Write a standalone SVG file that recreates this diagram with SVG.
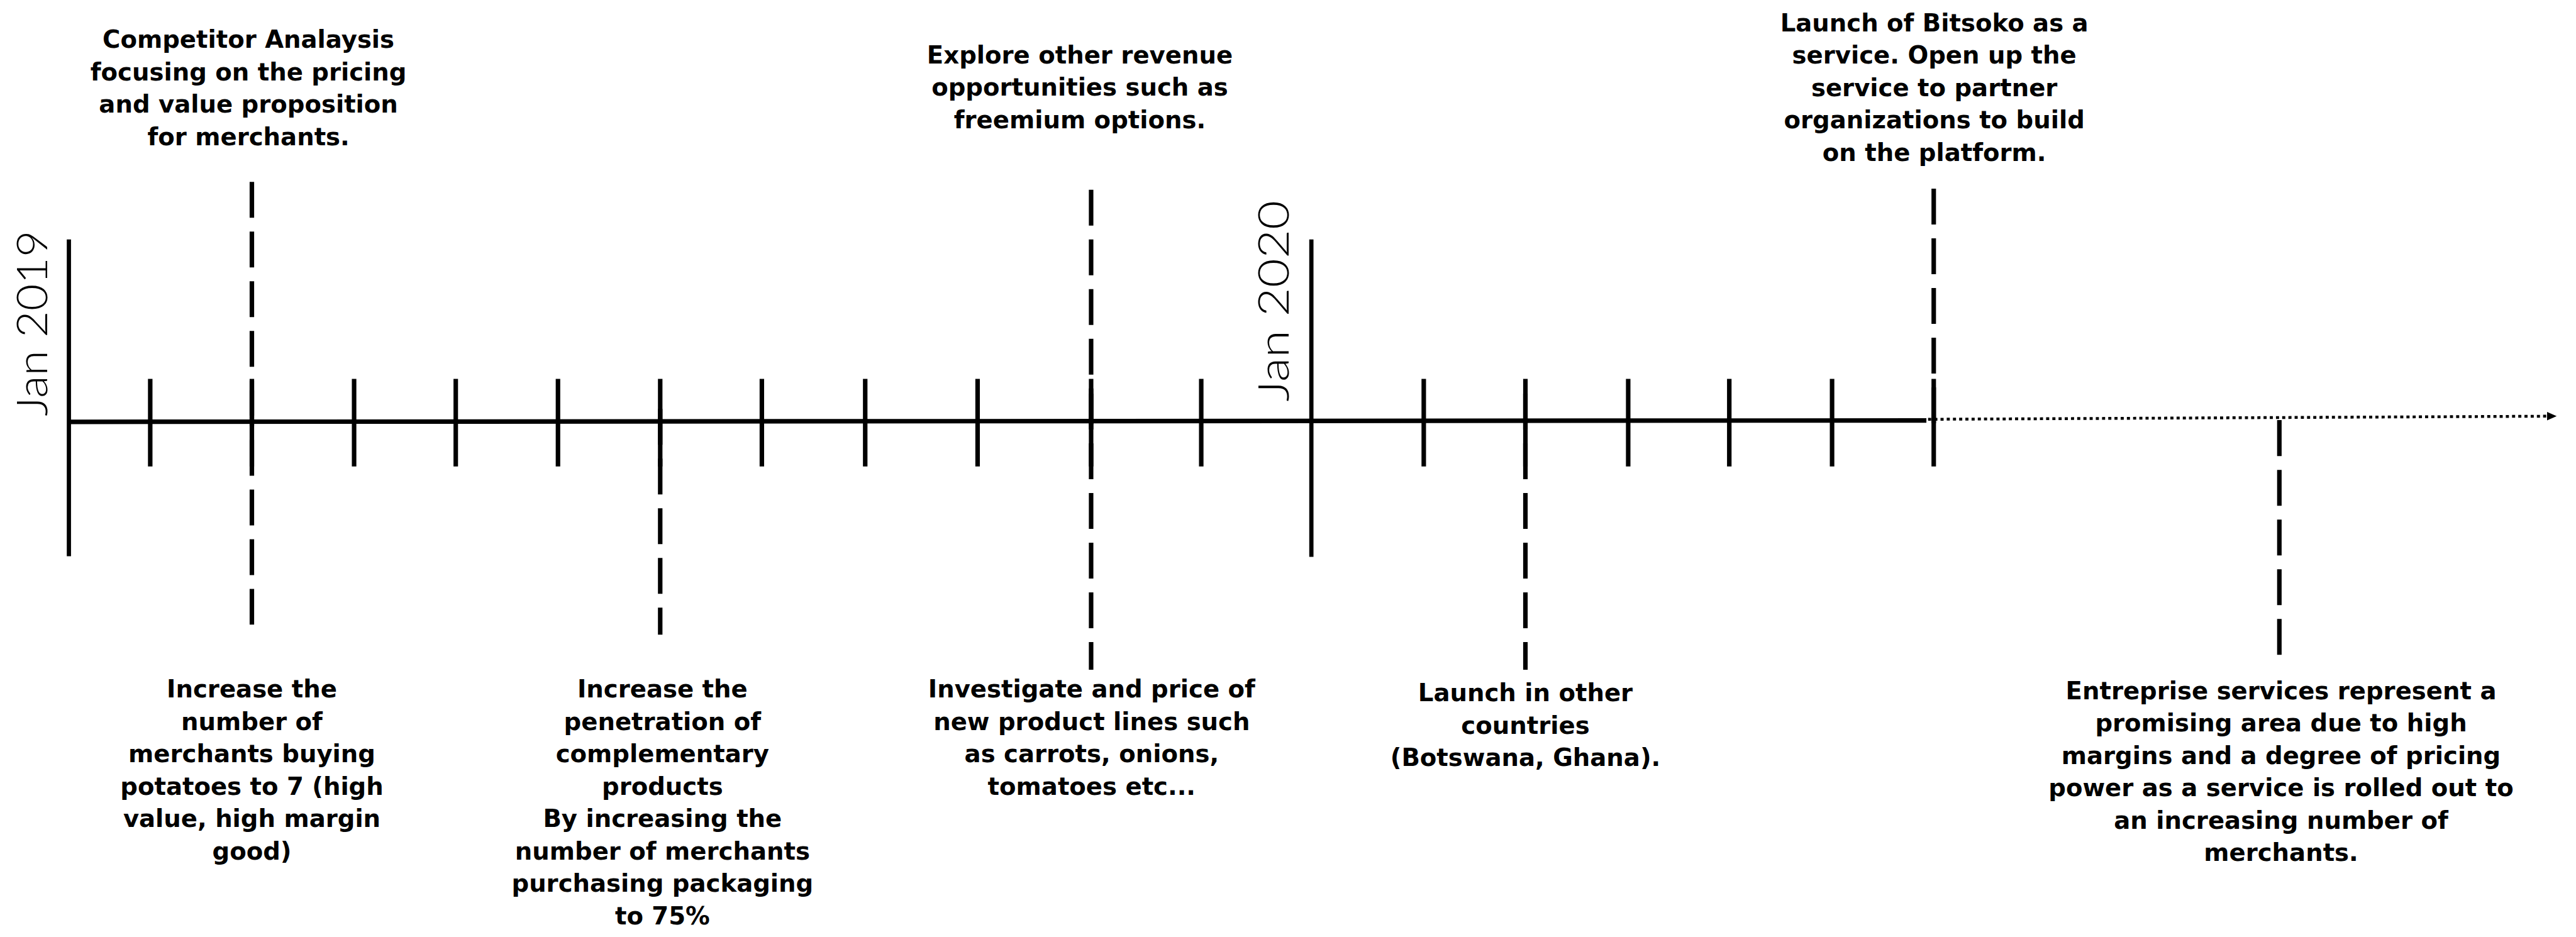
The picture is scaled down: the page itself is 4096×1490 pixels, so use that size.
<svg xmlns="http://www.w3.org/2000/svg" width="4096" height="1490" viewBox="0 0 4096 1490">
<style>
.t{font-family:"DejaVu Sans","Liberation Sans",sans-serif;font-weight:bold;font-size:43px;text-anchor:middle;fill:#000}
.j{font-family:Lato,"Open Sans","DejaVu Sans",sans-serif;font-weight:300;font-size:74px;fill:#000}
.solid{stroke:#000;stroke-width:8;fill:none}
.year{stroke:#000;stroke-width:7.5;fill:none}
.dash{stroke:#000;stroke-width:8;stroke-dasharray:63.5 24.5;fill:none}
.dot{stroke:#000;stroke-width:5;stroke-dasharray:5.5 5.5;fill:none}
</style>
<defs>
<marker id="arrow" markerUnits="userSpaceOnUse" markerWidth="20" markerHeight="18" refX="0" refY="7.5" orient="auto">
<path d="M0,0 L17,7.5 L0,15 Z" fill="#000"/>
</marker>
</defs>
<rect width="4096" height="1490" fill="#fff"/>
<g transform="scale(0.898)">
<g id="axis">
<line class="solid" x1="122" y1="747" x2="3411" y2="744.5"/>
<line class="dot" x1="3414" y1="742.5" x2="4510" y2="737" marker-end="url(#arrow)"/>
<line class="year" x1="122" y1="424" x2="122" y2="985"/>
<line class="year" x1="2322" y1="424" x2="2322" y2="986"/>
<g class="solid">
<line x1="266" y1="671" x2="266" y2="826"/>
<line x1="446" y1="671" x2="446" y2="826"/>
<line x1="627" y1="671" x2="627" y2="826"/>
<line x1="807" y1="671" x2="807" y2="826"/>
<line x1="988" y1="671" x2="988" y2="826"/>
<line x1="1169" y1="671" x2="1169" y2="826"/>
<line x1="1349" y1="671" x2="1349" y2="826"/>
<line x1="1532" y1="671" x2="1532" y2="826"/>
<line x1="1731" y1="671" x2="1731" y2="826"/>
<line x1="1932" y1="671" x2="1932" y2="826"/>
<line x1="2127" y1="671" x2="2127" y2="826"/>
<line x1="2521" y1="671" x2="2521" y2="826"/>
<line x1="2701" y1="671" x2="2701" y2="826"/>
<line x1="2883" y1="671" x2="2883" y2="826"/>
<line x1="3062" y1="671" x2="3062" y2="826"/>
<line x1="3244" y1="671" x2="3244" y2="826"/>
<line x1="3424" y1="671" x2="3424" y2="826"/>
</g>
</g>
<g id="year-labels">
<text id="jan2019" class="j" transform="translate(84,737) rotate(-90)" textLength="329" lengthAdjust="spacingAndGlyphs">Jan 2019</text>
<text id="jan2020" class="j" transform="translate(2282,711) rotate(-90)" textLength="356" lengthAdjust="spacingAndGlyphs">Jan 2020</text>
</g>
<g id="connectors">
<line class="dash" x1="446" y1="322" x2="446" y2="736"/>
<line class="dash" x1="446" y1="691" x2="446" y2="1106"/>
<line class="dash" x1="1169" y1="724" x2="1169" y2="1124"/>
<line class="dash" x1="1932" y1="336" x2="1932" y2="751"/>
<line class="dash" x1="1932" y1="697" x2="1932" y2="1186"/>
<line class="dash" x1="2701" y1="697" x2="2701" y2="1186"/>
<line class="dash" x1="3424" y1="334" x2="3424" y2="750"/>
<line class="dash" x1="4036" y1="744" x2="4036" y2="1160"/>
</g>
<g id="competitor-analysis">
<text class="t" y="84.8"><tspan x="440">Competitor Analaysis</tspan><tspan x="440" dy="57.4">focusing on the pricing</tspan><tspan x="440" dy="57.4">and value proposition</tspan><tspan x="440" dy="57.4">for merchants.</tspan></text>
</g>
<g id="explore-revenue">
<text class="t" y="112"><tspan x="1912">Explore other revenue</tspan><tspan x="1912" dy="57.4">opportunities such as</tspan><tspan x="1912" dy="57.4">freemium options.</tspan></text>
</g>
<g id="launch-bitsoko">
<text class="t" y="55.5"><tspan x="3425">Launch of Bitsoko as a</tspan><tspan x="3425" dy="57.4">service. Open up the</tspan><tspan x="3425" dy="57.4">service to partner</tspan><tspan x="3425" dy="57.4">organizations to build</tspan><tspan x="3425" dy="57.4">on the platform.</tspan></text>
</g>
<g id="increase-potatoes">
<text class="t" y="1235"><tspan x="446">Increase the</tspan><tspan x="446" dy="57.4">number of</tspan><tspan x="446" dy="57.4">merchants buying</tspan><tspan x="446" dy="57.4">potatoes to 7 (high</tspan><tspan x="446" dy="57.4">value, high margin</tspan><tspan x="446" dy="57.4">good)</tspan></text>
</g>
<g id="increase-penetration">
<text class="t" y="1235"><tspan x="1173">Increase the</tspan><tspan x="1173" dy="57.4">penetration of</tspan><tspan x="1173" dy="57.4">complementary</tspan><tspan x="1173" dy="57.4">products</tspan><tspan x="1173" dy="57.4">By increasing the</tspan><tspan x="1173" dy="57.4">number of merchants</tspan><tspan x="1173" dy="57.4">purchasing packaging</tspan><tspan x="1173" dy="57.4">to 75%</tspan></text>
</g>
<g id="investigate-products">
<text class="t" y="1235"><tspan x="1933">Investigate and price of</tspan><tspan x="1933" dy="57.4">new product lines such</tspan><tspan x="1933" dy="57.4">as carrots, onions,</tspan><tspan x="1933" dy="57.4">tomatoes etc...</tspan></text>
</g>
<g id="launch-countries">
<text class="t" y="1242"><tspan x="2701">Launch in other</tspan><tspan x="2701" dy="57.4">countries</tspan><tspan x="2701" dy="57.4">(Botswana, Ghana).</tspan></text>
</g>
<g id="enterprise-services">
<text class="t" y="1238"><tspan x="4039">Entreprise services represent a</tspan><tspan x="4039" dy="57.4">promising area due to high</tspan><tspan x="4039" dy="57.4">margins and a degree of pricing</tspan><tspan x="4039" dy="57.4">power as a service is rolled out to</tspan><tspan x="4039" dy="57.4">an increasing number of</tspan><tspan x="4039" dy="57.4">merchants.</tspan></text>
</g>
</g>
</svg>
